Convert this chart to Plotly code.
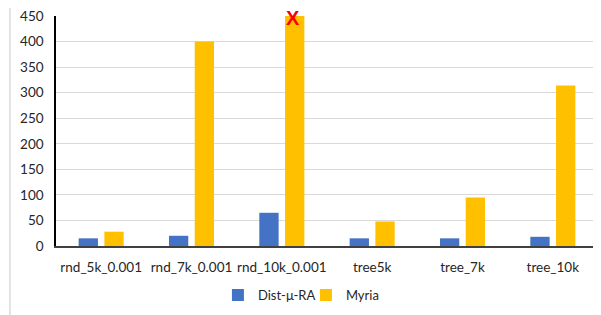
import plotly.graph_objects as go

categories = ["rnd_5k_0.001", "rnd_7k_0.001", "rnd_10k_0.001", "tree5k", "tree_7k", "tree_10k"]
dist_mu_ra = [15, 20, 65, 15, 15, 18]
myria = [28, 400, 450, 48, 95, 314]
y_ticks = [0, 50, 100, 150, 200, 250, 300, 350, 400, 450]
timeout_category = "rnd_10k_0.001"

FONT = "Lato"

fig = go.Figure()
fig.add_trace(go.Bar(name="Dist-μ-RA", x=categories, y=dist_mu_ra, marker_color="#4472C4",
                     marker_line_width=0))
fig.add_trace(go.Bar(name="Myria", x=categories, y=myria, marker_color="#FFC000",
                     marker_line_width=0))

# page body has an 8px default margin, so the figure is sized to fit the window
fig.update_layout(
    width=593, height=307,
    margin=dict(l=48, r=3, t=8, b=69, autoexpand=False),
    paper_bgcolor="white", plot_bgcolor="white",
    barmode="group", bargap=0.43, bargroupgap=0.25,
    font=dict(family=FONT, size=13.5, color="#262626"),
    showlegend=True,
    legend=dict(orientation="h", xref="container", yref="container",
                x=0.354, y=0.065, xanchor="left", yanchor="middle",
                font=dict(size=13, color="#262626"), itemwidth=30,
                entrywidth=43, tracegroupgap=0),
)
fig.update_yaxes(range=[0, 450], tickvals=y_ticks, showgrid=True, gridcolor="#D9D9D9",
                 gridwidth=1, showline=True, linecolor="black", linewidth=1.5,
                 ticks="", ticklabelstandoff=8, zeroline=False, automargin=False,
                 ticklabeloverflow="allow")
fig.update_xaxes(showline=True, linecolor="#404040", linewidth=1.5, ticks="",
                 ticklabelstandoff=8, automargin=False)

fig.add_annotation(x=timeout_category, y=450, text="<b>X</b>", showarrow=False,
                   xshift=11, yshift=-2, font=dict(family="Liberation Sans", size=20, color="#FF0000"))

# outer chart border (light gray)
fig.add_shape(type="line", xref="paper", yref="paper", x0=-0.085, x1=-0.085, y0=-0.4, y1=1.07,
              line=dict(color="#D9D9D9", width=1.5))
fig.add_shape(type="line", xref="paper", yref="paper", x0=-0.085, x1=1.01, y0=1.065, y1=1.065,
              line=dict(color="#EEEEEE", width=1))

fig.write_html("out.html")
